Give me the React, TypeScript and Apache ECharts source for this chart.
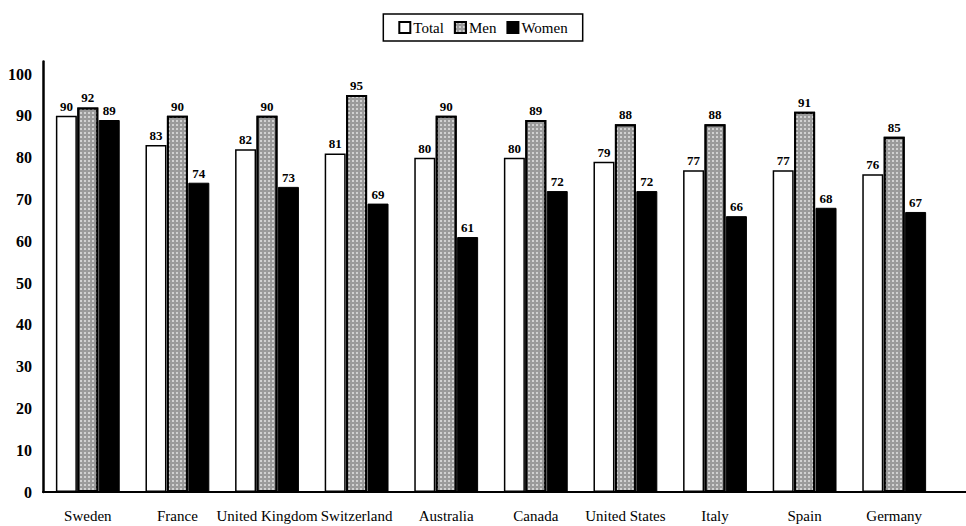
import React, { useEffect, useRef } from "react";
import * as echarts from "echarts";

const categories = ["Sweden", "France", "United Kingdom", "Switzerland", "Australia", "Canada", "United States", "Italy", "Spain", "Germany"];
const totalValues = [90, 83, 82, 81, 80, 80, 79, 77, 77, 76];
const menValues = [92, 90, 90, 95, 90, 89, 88, 88, 91, 85];
const womenValues = [89, 74, 73, 69, 61, 72, 72, 66, 68, 67];

const SERIF = "Liberation Serif";

export default function App() {
  const ref = useRef<HTMLDivElement>(null);
  useEffect(() => {
    document.body.style.margin = "0";
    if (!ref.current) return;
    const chart = echarts.init(ref.current, undefined, { renderer: "svg" });
    const labelCfg = {
      show: true,
      position: "top" as const,
      distance: 3,
      fontFamily: SERIF,
      fontWeight: "bold" as const,
      fontSize: 13,
      color: "#000",
    };
    chart.setOption({
      animation: false,
      backgroundColor: "#fff",
      textStyle: { fontFamily: SERIF },
      legend: {
        top: 14,
        left: "center",
        data: ["Total", "Men", "Women"],
        borderColor: "#000",
        borderWidth: 1.5,
        padding: [6, 15, 6, 15],
        itemWidth: 11,
        itemHeight: 11,
        itemGap: 10,
        icon: "rect",
        textStyle: { fontFamily: SERIF, fontSize: 15, color: "#000", padding: [0, 0, 0, -2] },
      },
      grid: { left: 43, right: 27, top: 61.5, bottom: 34, containLabel: false },
      xAxis: {
        type: "category",
        data: categories,
        axisLine: { show: true, lineStyle: { color: "#000", width: 2 } },
        axisTick: { show: false },
        axisLabel: {
          interval: 0,
          margin: 16,
          fontFamily: SERIF,
          fontSize: 15,
          color: "#000",
        },
      },
      yAxis: {
        type: "value",
        min: 0,
        max: 103,
        interval: 10,
        splitLine: { show: false },
        axisLine: { show: true, lineStyle: { color: "#000", width: 2.5 } },
        axisTick: { show: false },
        axisLabel: {
          margin: 11,
          fontFamily: SERIF,
          fontWeight: "bold",
          fontSize: 16,
          color: "#000",
          formatter: (v: number) => (v > 100 ? "" : String(v)),
        },
      },
      graphic: [
        {
          type: "line",
          shape: { x1: 938, y1: 492, x2: 966, y2: 492 },
          style: { stroke: "#000", lineWidth: 2 },
        },
      ],
      series: [
        {
          name: "Total",
          type: "bar",
          data: totalValues,
          barWidth: 21,
          barGap: "2%",
          barCategoryGap: "30%",
          itemStyle: { color: "#fff", borderColor: "#000", borderWidth: 1.5 },
          label: labelCfg,
        },
        {
          name: "Men",
          type: "bar",
          data: menValues,
          barWidth: 21,
          barGap: "2%",
          itemStyle: {
            color: "#9a9a9a",
            borderColor: "#000",
            borderWidth: 2,
            decal: {
              symbol: "rect",
              symbolSize: 1,
              color: "rgba(255,255,255,0.55)",
              dashArrayX: [1.5, 1.5],
              dashArrayY: [1.5, 1.5],
              rotation: 0,
            },
          },
          label: labelCfg,
        },
        {
          name: "Women",
          type: "bar",
          data: womenValues,
          barWidth: 21,
          barGap: "2%",
          itemStyle: { color: "#000", borderColor: "#000", borderWidth: 1 },
          label: labelCfg,
        },
      ],
    });
    return () => chart.dispose();
  }, []);
  return <div ref={ref} style={{ width: 966, height: 526 }} />;
}
